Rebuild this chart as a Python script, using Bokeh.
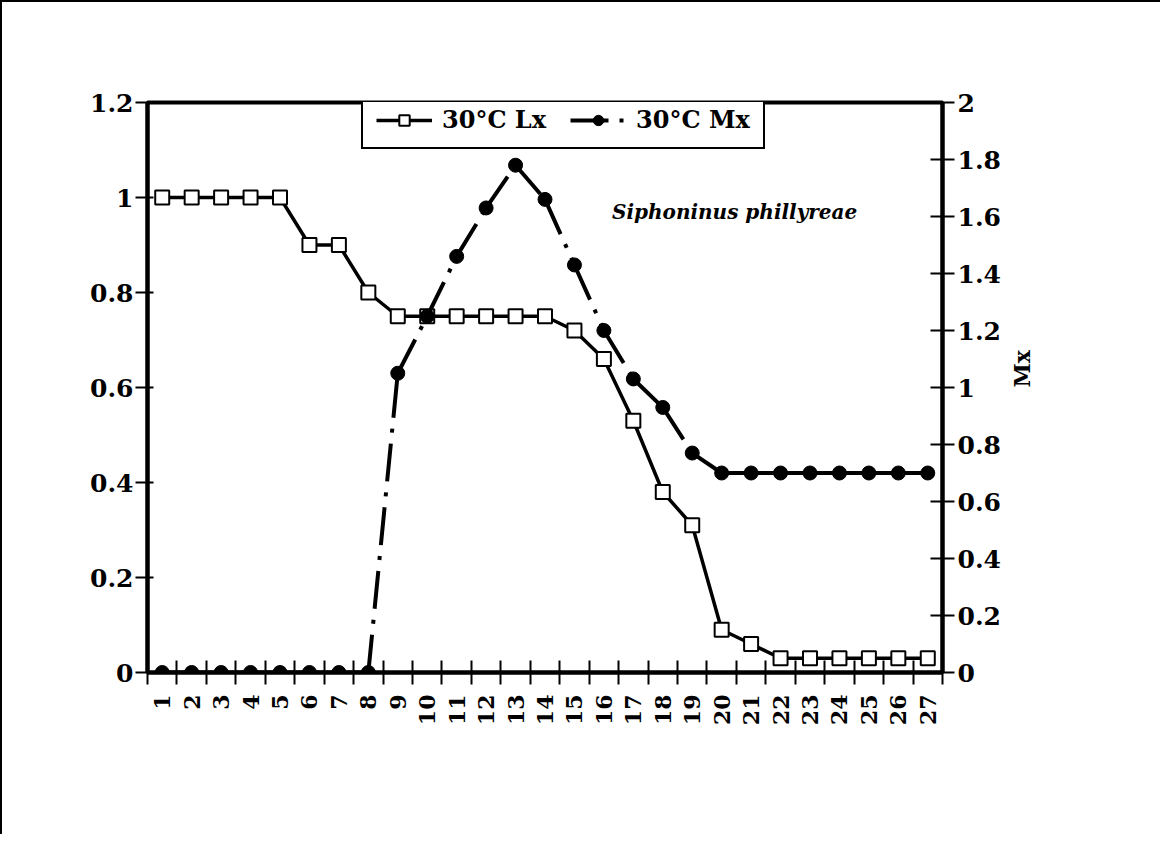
import math
from bokeh.plotting import figure
from bokeh.models import Range1d, LinearAxis, FixedTicker, Legend, LegendItem, Label
from bokeh.embed import file_html
from bokeh.resources import INLINE

# ---- data ----
age = list(range(1, 28))
lx = [1.0, 1.0, 1.0, 1.0, 1.0, 0.9, 0.9, 0.8, 0.75, 0.75, 0.75, 0.75, 0.75, 0.75,
      0.72, 0.66, 0.53, 0.38, 0.31, 0.09, 0.06, 0.03, 0.03, 0.03, 0.03, 0.03, 0.03]
mx = [0, 0, 0, 0, 0, 0, 0, 0, 1.05, 1.25, 1.46, 1.63, 1.78, 1.66,
      1.43, 1.20, 1.03, 0.93, 0.77, 0.70, 0.70, 0.70, 0.70, 0.70, 0.70, 0.70, 0.70]
lx_ticks = [0, 0.2, 0.4, 0.6, 0.8, 1.0, 1.2]
lx_tick_labels = ["0", "0.2", "0.4", "0.6", "0.8", "1", "1.2"]
mx_ticks = [0, 0.2, 0.4, 0.6, 0.8, 1.0, 1.2, 1.4, 1.6, 1.8, 2.0]
mx_tick_labels = ["0", "0.2", "0.4", "0.6", "0.8", "1", "1.2", "1.4", "1.6", "1.8", "2"]
series_labels = ["30°C Lx", "30°C Mx"]
right_axis_title = "Mx"
species = "Siphoninus phillyreae"

FONT = "DejaVu Serif"

p = figure(width=1160, height=834,
           x_range=Range1d(0.5, len(age) + 0.5), y_range=Range1d(lx_ticks[0], lx_ticks[-1]),
           output_backend="svg", toolbar_location=None,
           min_border_left=145, min_border_right=220, min_border_top=100, min_border_bottom=164)
p.styles = {"border-left": "2px solid black", "border-top": "2px solid black"}
p.extra_y_ranges = {"mx": Range1d(mx_ticks[0], mx_ticks[-1])}
p.xgrid.visible = False
p.ygrid.visible = False
p.outline_line_color = "black"
p.outline_line_width = 4
p.outline_line_alpha = 1

# x axis: labels at category centres, ticks at category boundaries
xa = p.xaxis[0]
xa.ticker = FixedTicker(ticks=age, minor_ticks=[a - 0.5 for a in age] + [age[-1] + 0.5])
xa.major_label_overrides = {a: str(a) for a in age}
xa.major_tick_in = 0
xa.major_tick_out = 0
xa.minor_tick_in = 12
xa.minor_tick_out = 12
xa.minor_tick_line_color = "black"
xa.minor_tick_line_width = 2
xa.axis_line_width = 4
xa.axis_line_color = "black"
xa.major_label_orientation = math.pi / 2
xa.major_label_standoff = 10
xa.major_label_text_font = FONT
xa.major_label_text_font_style = "bold"
xa.major_label_text_font_size = "22px"
xa.major_label_text_color = "black"

# left axis
ya = p.yaxis[0]
ya.ticker = FixedTicker(ticks=lx_ticks, minor_ticks=[])
ya.major_label_overrides = dict(zip(lx_ticks, lx_tick_labels))
ya.major_tick_in = 6
ya.major_tick_out = 12
ya.major_tick_line_width = 2
ya.minor_tick_line_color = None
ya.axis_line_width = 4
ya.major_label_standoff = 2
ya.major_label_text_font = FONT
ya.major_label_text_font_style = "bold"
ya.major_label_text_font_size = "25px"
ya.major_label_text_color = "black"

# right axis
ra = LinearAxis(y_range_name="mx", ticker=FixedTicker(ticks=mx_ticks, minor_ticks=[]),
                axis_label=right_axis_title)
ra.major_label_overrides = dict(zip(mx_ticks, mx_tick_labels))
ra.major_tick_in = 12
ra.major_tick_out = 12
ra.major_tick_line_width = 2
ra.minor_tick_line_color = None
ra.axis_line_width = 4
ra.major_label_standoff = 3
ra.major_label_text_font = FONT
ra.major_label_text_font_style = "bold"
ra.major_label_text_font_size = "25px"
ra.major_label_text_color = "black"
ra.axis_label_text_font = FONT
ra.axis_label_text_font_style = "bold"
ra.axis_label_text_font_size = "22px"
ra.axis_label_text_color = "black"
ra.axis_label_standoff = 18
ra.axis_label_text_align = "right"
if "axis_label_orientation" in ra.properties():
    ra.axis_label_orientation = math.pi / 2
p.add_layout(ra, "right")

# series
r1 = p.line(age, lx, line_color="black", line_width=3.5)
r2 = p.scatter(age, lx, marker="square", size=14, fill_color="white",
               line_color="black", line_width=2)
# Mx: each segment dashed on its own (the dash pattern restarts per segment)
seg_x = [[age[i], age[i + 1]] for i in range(len(age) - 1)]
seg_y = [[mx[i], mx[i + 1]] for i in range(len(mx) - 1)]
r3 = p.multi_line(seg_x, seg_y, y_range_name="mx", line_color="black", line_width=4,
                  line_dash="38 11 4 11")
r4 = p.scatter(age, mx, y_range_name="mx", marker="circle", size=14,
               fill_color="black", line_color="black")

legend = Legend(items=[LegendItem(label=series_labels[0], renderers=[r1, r2]),
                       LegendItem(label=series_labels[1], renderers=[r3, r4])],
                orientation="horizontal", location=(214, 523))
legend.label_text_font = FONT
legend.label_text_font_style = "bold"
legend.label_text_font_size = "24px"
legend.label_text_color = "black"
legend.glyph_width = 56
legend.glyph_height = 26
legend.label_standoff = 10
legend.spacing = 24
legend.padding = 13
legend.margin = 0
legend.border_line_color = "black"
legend.border_line_width = 2
legend.border_line_alpha = 1
legend.background_fill_color = "white"
legend.background_fill_alpha = 1
p.add_layout(legend, "center")

p.add_layout(Label(x=20.44, y=0.97, text=species, text_font=FONT,
                   text_font_style="bold italic", text_font_size="20px",
                   text_align="center", text_baseline="middle", text_color="black"))

open("out.html", "w").write(file_html(p, INLINE))
